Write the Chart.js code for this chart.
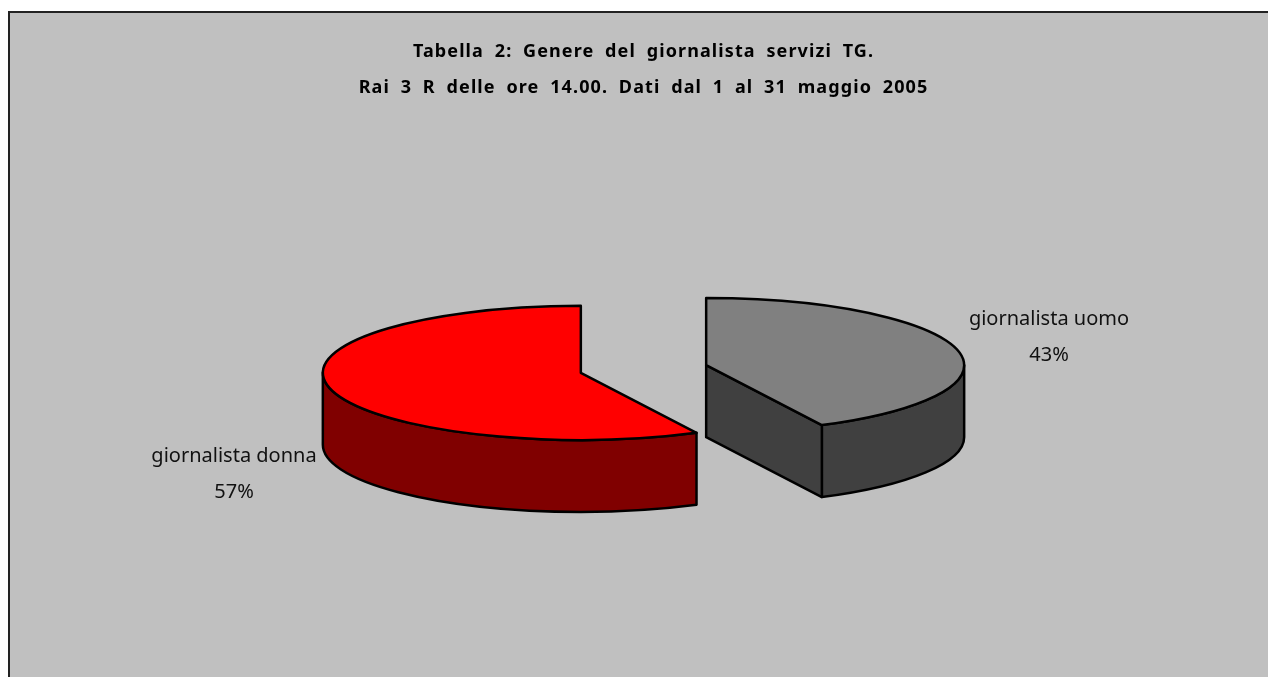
<!DOCTYPE html>
<html>
<head>
<meta charset="utf-8">
<title>Tabella 2</title>
<script src="https://cdn.jsdelivr.net/npm/chart.js@4/dist/chart.umd.min.js"></script>
<style>
    html, body { margin: 0; height: 100%; background: #fff; overflow: hidden; }
    #frame {
        position: absolute; left: 8px; top: 11px; right: 0; bottom: 0;
        border-left: 2px solid #222; border-top: 2px solid #222;
        background: #c0c0c0; overflow: hidden;
    }
    canvas { display: block; }
</style>
</head>
<body>
<div id="frame"><canvas id="pie" width="1258" height="664"></canvas></div>
<script>
const categories = ['giornalista uomo', 'giornalista donna'];
const percentages = [42.6, 57.4];
const topColors = ['#808080', '#ff0000'];
const wallColors = ['#404040', '#800000'];
const titleLines = ['Tabella 2: Genere del giornalista servizi TG.', 'Rai 3 R delle ore 14.00. Dati dal 1 al 31 maggio 2005'];

const SQUASH = 0.26;  // flattens the pie into an ellipse
const DEPTH = 72;     // height of the 3d wall
const EXPLODE = 64.4; // how far each slice moves out of the centre
const labelAnchors = [[1039, 306], [224, 443]];

// centre and radii of a slice on screen
function sliceShape(arc) {
    const mid = (arc.startAngle + arc.endAngle) / 2;
    return {
        dx: Math.cos(mid) * EXPLODE,
        dy: Math.sin(mid) * EXPLODE,
        cx: arc.x + Math.cos(mid) * EXPLODE,
        cy: arc.y + Math.sin(mid) * EXPLODE * SQUASH,
        rx: arc.outerRadius,
        ry: arc.outerRadius * SQUASH,
        start: arc.startAngle,
        end: arc.endAngle
    };
}

function drawWalls(ctx, s, color) {
    const TAU = Math.PI * 2;
    // only the part of the rim facing the viewer is visible
    for (let k = -1; k <= 1; k++) {
        const from = Math.max(s.start, TAU * k);
        const to = Math.min(s.end, TAU * k + Math.PI);
        if (to <= from) continue;
        ctx.beginPath();
        ctx.ellipse(s.cx, s.cy, s.rx, s.ry, 0, from, to);
        ctx.ellipse(s.cx, s.cy + DEPTH, s.rx, s.ry, 0, to, from, true);
        ctx.closePath();
        ctx.fillStyle = color;
        ctx.fill();
        ctx.stroke();
    }
    // cut face, visible when it runs down to the right from the centre
    const a = s.end;
    const tipX = s.cx + Math.cos(a) * s.rx;
    const tipY = s.cy + Math.sin(a) * s.ry;
    if (Math.sin(a) > 0 && Math.cos(a) > 0) {
        ctx.beginPath();
        ctx.moveTo(s.cx, s.cy);
        ctx.lineTo(tipX, tipY);
        ctx.lineTo(tipX, tipY + DEPTH);
        ctx.lineTo(s.cx, s.cy + DEPTH);
        ctx.closePath();
        ctx.fillStyle = color;
        ctx.fill();
        ctx.stroke();
    }
}

const pie3d = {
    id: 'pie3d',
    beforeDraw(chart) {
        // picked up by the title box, which is drawn next
        chart.ctx.letterSpacing = '1.1px';
        chart.ctx.wordSpacing = '5px';
    },
    beforeDatasetDraw(chart) {
        const ctx = chart.ctx;
        const arcs = chart.getDatasetMeta(0).data;
        ctx.letterSpacing = '0px';
        ctx.wordSpacing = '0px';
        ctx.save();
        ctx.strokeStyle = '#000';
        ctx.lineWidth = 2.5;
        ctx.lineJoin = 'round';
        arcs.forEach((arc, i) => drawWalls(ctx, sliceShape(arc), wallColors[i]));
        ctx.restore();
        // top faces: the library's own arcs in a squashed, shifted space
        arcs.forEach(arc => {
            const s = sliceShape(arc);
            ctx.save();
            ctx.translate(0, arc.y);
            ctx.scale(1, SQUASH);
            ctx.translate(s.dx, s.dy - arc.y);
            arc.draw(ctx);
            ctx.restore();
        });
        ctx.save();
        ctx.strokeStyle = '#000';
        ctx.lineWidth = 2.5;
        ctx.lineJoin = 'round';
        arcs.forEach(arc => {
            const s = sliceShape(arc);
            ctx.beginPath();
            ctx.moveTo(s.cx, s.cy);
            ctx.ellipse(s.cx, s.cy, s.rx, s.ry, 0, s.start, s.end);
            ctx.closePath();
            ctx.stroke();
        });
        ctx.restore();
        return false;
    },
    afterDraw(chart) {
        const ctx = chart.ctx;
        ctx.save();
        ctx.fillStyle = '#111';
        ctx.font = '20px "Noto Sans"';
        ctx.textAlign = 'center';
        ctx.textBaseline = 'middle';
        categories.forEach((name, i) => {
            ctx.fillText(name, labelAnchors[i][0], labelAnchors[i][1]);
            ctx.fillText(Math.round(percentages[i]) + '%', labelAnchors[i][0], labelAnchors[i][1] + 36);
        });
        ctx.restore();
    }
};

new Chart(document.getElementById('pie'), {
    type: 'pie',
    data: {
        labels: categories,
        datasets: [{
            data: percentages,
            backgroundColor: topColors,
            borderWidth: 0
        }]
    },
    options: {
        responsive: false,
        animation: false,
        radius: 258,
        layout: { padding: { left: 9, bottom: 52 } },
        plugins: {
            legend: { display: false },
            tooltip: { enabled: false },
            title: {
                display: true,
                text: titleLines,
                color: '#000',
                font: { family: '"Noto Sans"', size: 18, weight: 'bold', lineHeight: 2 },
                padding: { top: 21, bottom: 7 }
            }
        }
    },
    plugins: [pie3d]
});
</script>
</body>
</html>
